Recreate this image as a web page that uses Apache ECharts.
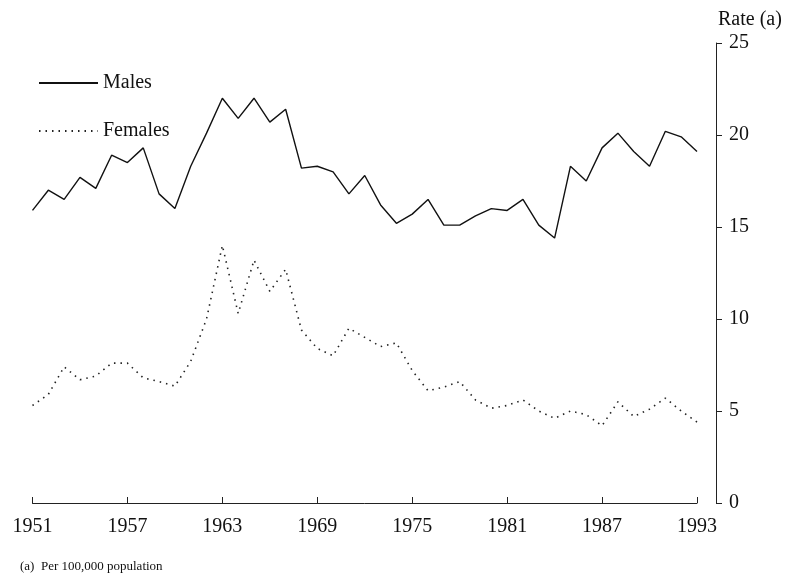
<!DOCTYPE html>
<html>
<head>
<meta charset="utf-8">
<script src="https://cdn.jsdelivr.net/npm/echarts@6/dist/echarts.min.js"></script>
<style>html,body{margin:0;padding:0;background:#fff}#c{width:787px;height:578px}</style>
</head>
<body>
<div id="c"></div>
<script>
var years = [];
for (var y = 1951; y <= 1993; y++) years.push(String(y));

var males = [15.9,17.0,16.5,17.7,17.1,18.9,18.5,19.3,16.8,16.0,
             18.3,20.1,22.0,20.9,22.0,20.7,21.4,18.2,18.3,18.0,
             16.8,17.8,16.2,15.2,15.7,16.5,15.1,15.1,15.6,16.0,
             15.9,16.5,15.1,14.4,18.3,17.5,19.3,20.1,19.1,18.3,
             20.2,19.9,19.1];

var females = [5.3,5.9,7.4,6.7,6.9,7.6,7.6,6.8,6.6,6.35,
               7.7,10.0,14.0,10.3,13.2,11.5,12.7,9.4,8.4,8.0,
               9.5,9.0,8.5,8.7,7.2,6.1,6.3,6.6,5.6,5.15,
               5.3,5.6,5.0,4.6,5.0,4.8,4.2,5.5,4.7,5.1,
               5.7,5.0,4.4];

var yTicks = [0,5,10,15,20,25];

var FONT = '"Liberation Serif", "Times New Roman", serif';
var chart = echarts.init(document.getElementById('c'), null, {renderer:'canvas'});
chart.setOption({
  backgroundColor:'#fff',
  animation:false,
  title:{
    text:'(a)  Per 100,000 population',
    left:20, top:560, padding:0,
    textStyle:{fontFamily:FONT, fontSize:13, fontWeight:'normal', color:'#111'}
  },
  legend:{
    orient:'vertical',
    left:33, top:68,
    itemWidth:59, itemHeight:20, itemGap:28, itemTextGap:11,
    itemStyle:{opacity:0, color:'transparent', borderColor:'transparent', borderWidth:0},
    textStyle:{fontFamily:FONT, fontSize:20, color:'#111', lineHeight:20},
    data:['Males','Females']
  },
  grid:{left:32.5, right:90, top:43, bottom:75, containLabel:false},
  xAxis:{
    type:'category',
    data:years,
    boundaryGap:false,
    axisLine:{show:true, lineStyle:{color:'#222', width:1}},
    axisTick:{show:true, inside:true, length:6, interval:5, lineStyle:{color:'#222'}},
    axisLabel:{interval:5, margin:14, fontFamily:FONT, fontSize:20, color:'#111'},
    splitLine:{show:false}
  },
  yAxis:{
    type:'value',
    position:'right',
    offset:19,
    min:0, max:25, interval:5,
    name:'Rate (a)',
    nameLocation:'end',
    nameGap:13,
    nameTextStyle:{fontFamily:FONT, fontSize:20, color:'#111', align:'left', padding:[0,0,0,2]},
    axisLine:{show:true, lineStyle:{color:'#222', width:1}},
    axisTick:{show:true, inside:false, length:6, lineStyle:{color:'#222'}},
    axisLabel:{margin:13, fontFamily:FONT, fontSize:20, color:'#111',
      formatter:function(v){ return yTicks.indexOf(v) >= 0 ? String(v) : ''; }},
    splitLine:{show:false}
  },
  series:[
    {name:'Males', type:'line', data:males, symbol:'none', showSymbol:false,
     lineStyle:{color:'#111', width:1.4, type:'solid'}, itemStyle:{color:'#111'}},
    {name:'Females', type:'line', data:females, symbol:'none', showSymbol:false,
     lineStyle:{color:'#222', width:1.6, type:[1.5,5]}, itemStyle:{color:'#222'}}
  ]
});
</script>
</body>
</html>
